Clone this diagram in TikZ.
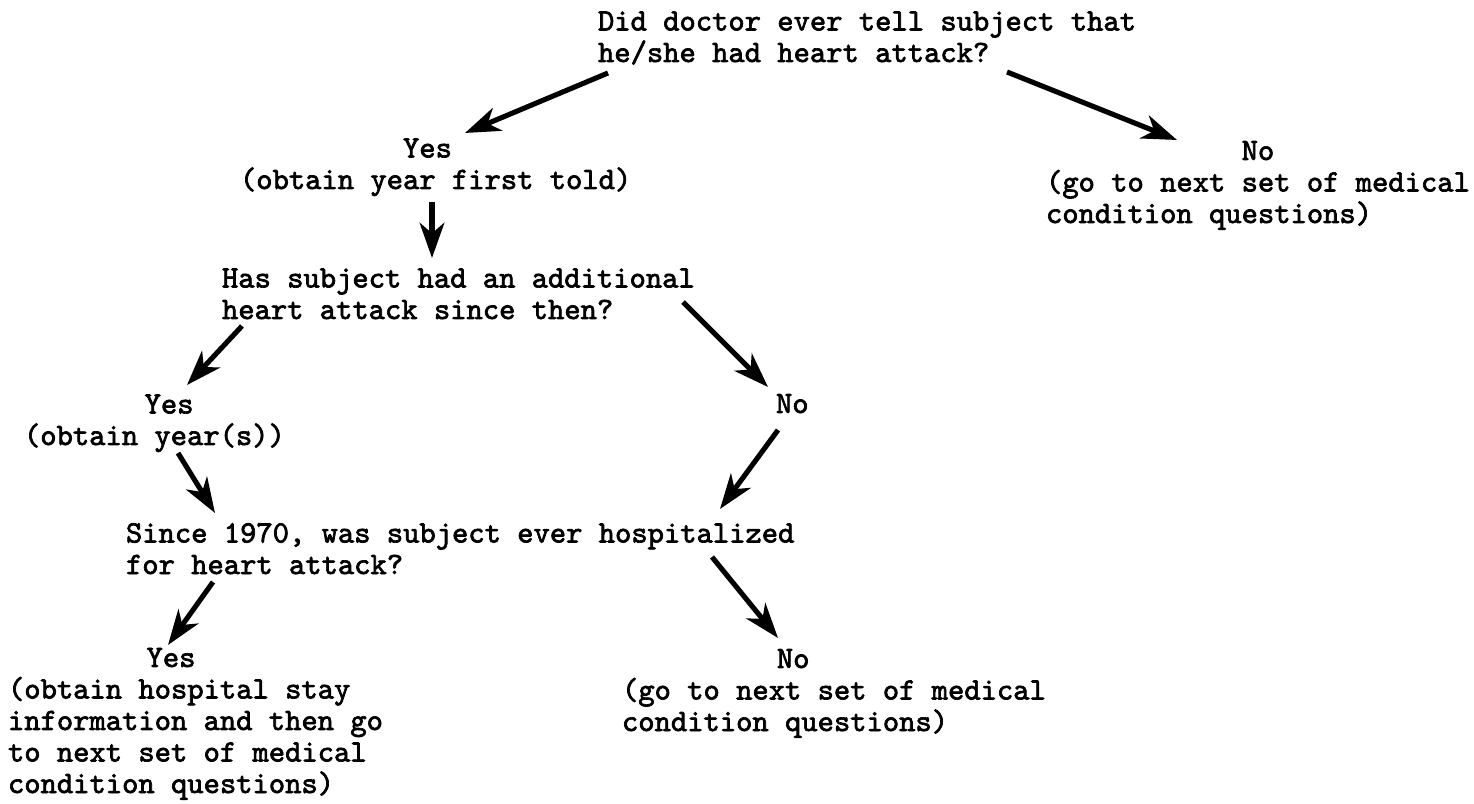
\documentclass[tikz,border=0pt]{standalone}
\usepackage{fontspec}
\newfontfamily\typewriter{lmmono10-regular}[Extension=.otf, FakeBold=2.2]
\usetikzlibrary{arrows.meta}
\newcommand\indentby[1]{\hspace*{#1\dimexpr0.525em\relax}}
\tikzset{
  txt/.style={inner sep=0pt, outer sep=0pt, anchor=base west, align=left,
    font=\fontsize{8.83pt}{8.96pt}\selectfont\typewriter},
  arr/.style={line width=1.45pt, -{Stealth[length=10pt,width=7pt,inset=3pt]}}
}
\begin{document}
\begin{tikzpicture}[x=0.01cm,y=-0.01cm]
\useasboundingbox (0,0) rectangle (1474,804);
% anchors are at the baseline of the last line of each text
\node[txt] (q1) at (598,62) {Did doctor ever tell subject that\\he/she had heart attack?};
\node[txt] (y1) at (240,189) {\indentby{10}Yes\\(obtain year first told)};
\node[txt] (n1) at (1046,223) {\indentby{12}No\\(go to next set of medical\\condition questions)};
\node[txt] (q2) at (222,319) {Has subject had an additional\\heart attack since then?};
\node[txt] (y2) at (24,445) {\indentby{7.4}Yes\\(obtain year(s))};
\node[txt] (n2) at (776,413) {No};
\node[txt] (q3) at (126,574) {Since 1970, was subject ever hospitalized\\for heart attack?};
\node[txt] (y3) at (8,793) {\indentby{8.5}Yes\\(obtain hospital stay\\information and then go\\to next set of medical\\condition questions)};
\node[txt] (n3) at (622,731) {\indentby{9.5}No\\(go to next set of medical\\condition questions)};
% arrow end points
\coordinate (a1s) at (608,73);  \coordinate (a1e) at (465,133);
\coordinate (a2s) at (1007,72); \coordinate (a2e) at (1177,140);
\coordinate (a3s) at (432,202); \coordinate (a3e) at (432,258);
\coordinate (a4s) at (242,326); \coordinate (a4e) at (187,385);
\coordinate (a5s) at (683,302); \coordinate (a5e) at (768,387);
\coordinate (a6s) at (778,430); \coordinate (a6e) at (720,509);
\coordinate (a7s) at (178,453); \coordinate (a7e) at (215,513);
\coordinate (a8s) at (213,582); \coordinate (a8e) at (168,645);
\coordinate (a9s) at (712,557); \coordinate (a9e) at (778,638);
\draw[arr] (a1s) -- (a1e);
\draw[arr] (a2s) -- (a2e);
\draw[arr] (a3s) -- (a3e);
\draw[arr] (a4s) -- (a4e);
\draw[arr] (a5s) -- (a5e);
\draw[arr] (a6s) -- (a6e);
\draw[arr] (a7s) -- (a7e);
\draw[arr] (a8s) -- (a8e);
\draw[arr] (a9s) -- (a9e);
\end{tikzpicture}
\end{document}
